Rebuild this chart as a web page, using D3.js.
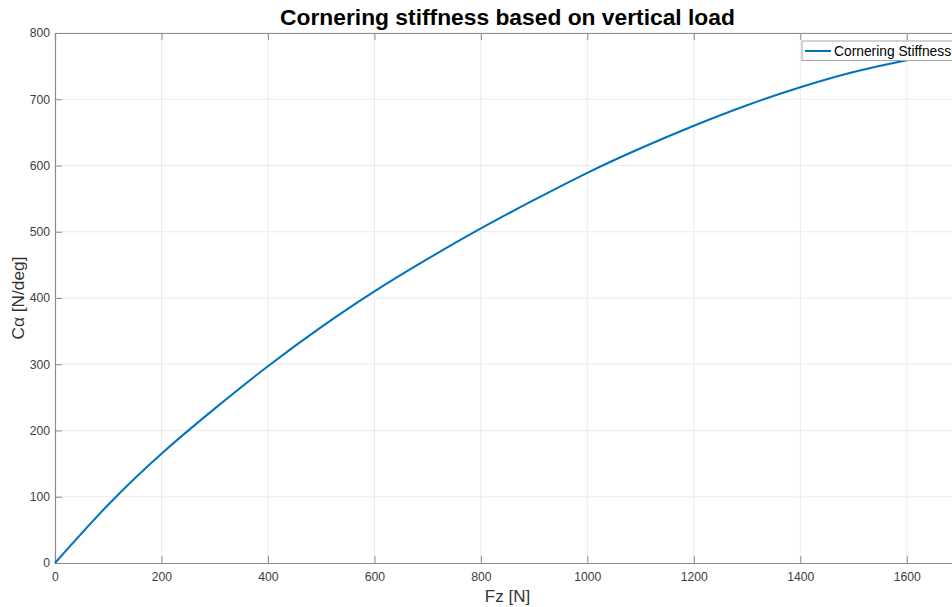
<!DOCTYPE html>
<html><head><meta charset="utf-8">
<script src="https://cdn.jsdelivr.net/npm/d3@7"></script>
<style>
html,body{margin:0;padding:0;background:#fff;overflow:hidden}
text{font-family:"Liberation Sans",Arial,Helvetica,sans-serif}
</style></head><body>
<svg id="c" width="952" height="607"></svg>
<script>
const fz = [0,100,200,300,400,500,600,700,800,900,1000,1100,1200,1300,1400,1500,1600,1700];
const cAlpha = [0,88,165,233,297,356,410,459,505,548,589,626,660,691,718,741,759,773];
const xTicks = [0,200,400,600,800,1000,1200,1400,1600];
const yTicks = [0,100,200,300,400,500,600,700,800];
const titleText = "Cornering stiffness based on vertical load";
const xLabel = "Fz [N]";
const yLabel = "Cα [N/deg]";
const seriesName = "Cornering Stiffness";

const svg = d3.select("#c");
const L = 55, R = 960, T = 33, B = 563;
const x = d3.scaleLinear().domain([0,1700]).range([L,R]);
const y = d3.scaleLinear().domain([0,800]).range([B,T]);
const axisCol = "#8c8c8c", textCol = "#404040";

// grid
svg.append("g").selectAll("line").data(xTicks.slice(1)).join("line")
  .attr("x1",d=>x(d)).attr("x2",d=>x(d)).attr("y1",T).attr("y2",B)
  .attr("stroke","#ebebeb").attr("stroke-width",1);
svg.append("g").selectAll("line").data(yTicks.slice(1)).join("line")
  .attr("y1",d=>y(d)).attr("y2",d=>y(d)).attr("x1",L).attr("x2",R)
  .attr("stroke","#ebebeb").attr("stroke-width",1);

// axes
const gx = svg.append("g").attr("transform",`translate(0,${B})`)
  .call(d3.axisBottom(x).tickValues(xTicks).tickSize(-7).tickPadding(9).tickFormat(d3.format("d")));
const gxt = svg.append("g").attr("transform",`translate(0,${T})`)
  .call(d3.axisTop(x).tickValues(xTicks).tickSize(-7).tickFormat(""));
const gy = svg.append("g").attr("transform",`translate(${L},0)`)
  .call(d3.axisLeft(y).tickValues(yTicks).tickSize(-7).tickPadding(5).tickFormat(d3.format("d")));
[gx,gxt,gy].forEach(g=>{
  g.select(".domain").attr("stroke",axisCol).attr("stroke-width",1.2);
  g.selectAll(".tick line").attr("stroke",axisCol);
  g.selectAll(".tick text").attr("fill",textCol).style("font-size","12.2px")
   .style("font-family",'"Liberation Sans",Arial,sans-serif');
});

// line
svg.append("path").datum(fz.map((f,i)=>[f,cAlpha[i]]))
  .attr("d", d3.line().x(d=>x(d[0])).y(d=>y(d[1])).curve(d3.curveNatural))
  .attr("fill","none").attr("stroke","#0072BD").attr("stroke-width",2);

// title & labels
svg.append("text").attr("x",(L+R)/2).attr("y",25).attr("text-anchor","middle")
  .style("font-size","22.8px").style("font-weight","bold").attr("fill","#000").text(titleText);
svg.append("text").attr("x",(L+R)/2).attr("y",602).attr("text-anchor","middle")
  .style("font-size","17px").attr("fill","#333").text(xLabel);
svg.append("text").attr("transform",`translate(24,${(T+B)/2}) rotate(-90)`).attr("text-anchor","middle")
  .style("font-size","17.3px").attr("fill","#333").text(yLabel);

// legend
const lg = svg.append("g");
lg.append("rect").attr("x",802).attr("y",41).attr("width",153).attr("height",19.5)
  .attr("fill","#fff").attr("stroke","#a6a6a6").attr("stroke-width",1);
lg.append("line").attr("x1",805).attr("x2",831).attr("y1",51).attr("y2",51)
  .attr("stroke","#0072BD").attr("stroke-width",2);
lg.append("text").attr("x",834).attr("y",55.5).style("font-size","13.8px").attr("fill","#000").text(seriesName);
</script></body></html>
